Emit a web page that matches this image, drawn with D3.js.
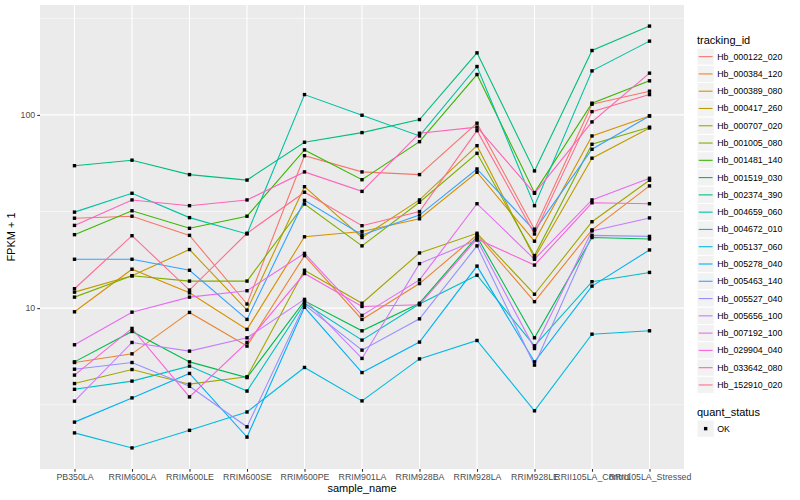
<!DOCTYPE html>
<html>
<head>
<meta charset="utf-8">
<script src="https://cdn.jsdelivr.net/npm/d3@7"></script>
<style>
  body { margin: 0; background: #fff; }
  text { font-family: "Liberation Sans", Arial, Helvetica, sans-serif; }
</style>
</head>
<body>
<script>
// sample names along the x axis
var samples = ["PB350LA", "RRIM600LA", "RRIM600LE", "RRIM600SE", "RRIM600PE", "RRIM901LA",
  "RRIM928BA", "RRIM928LA", "RRIM928LE", "RRII105LA_Control", "RRII105LA_Stressed"];

var trackingIds = ["Hb_000122_020", "Hb_000384_120", "Hb_000389_080", "Hb_000417_260", "Hb_000707_020",
  "Hb_001005_080", "Hb_001481_140", "Hb_001519_030", "Hb_002374_390", "Hb_004659_060",
  "Hb_004672_010", "Hb_005137_060", "Hb_005278_040", "Hb_005463_140", "Hb_005527_040",
  "Hb_005656_100", "Hb_007192_100", "Hb_029904_040", "Hb_033642_080", "Hb_152910_020"];

// FPKM + 1, one row per tracking id, one value per sample
var fpkmPlusOne = [
  [29.2, 29.9, 23.8, 10.5, 61.5, 50.7, 49.1, 90.6, 25.6, 113.6, 132.7],
  [5.23, 5.80, 9.50, 6.36, 18.7, 8.74, 13.4, 23.9, 10.8, 25.4, 42.9],
  [9.57, 15.9, 12.0, 7.76, 23.4, 24.9, 29.0, 50.5, 22.2, 77.8, 98.8],
  [12.1, 14.7, 20.1, 9.76, 42.5, 23.2, 36.3, 69.3, 18.2, 59.7, 85.6],
  [4.07, 4.81, 4.04, 4.41, 15.7, 10.6, 19.3, 24.4, 11.8, 28.0, 45.9],
  [11.4, 14.7, 13.8, 13.8, 34.6, 21.0, 35.3, 63.3, 18.7, 70.5, 86.4],
  [24.0, 31.9, 25.9, 29.9, 65.9, 46.2, 72.7, 161.8, 39.6, 115.0, 150.1],
  [5.27, 7.57, 5.27, 4.37, 10.9, 7.63, 10.6, 23.4, 7.02, 23.2, 22.8],
  [54.6, 58.3, 49.1, 46.0, 72.2, 81.0, 94.6, 209.5, 51.3, 215.4, 288.2],
  [31.4, 39.3, 29.4, 24.2, 127.4, 99.6, 77.8, 178.0, 33.9, 169.0, 240.9],
  [3.80, 4.19, 5.01, 3.72, 10.6, 6.83, 10.5, 14.8, 6.38, 13.7, 15.3],
  [2.26, 1.89, 2.33, 2.90, 4.93, 3.31, 5.46, 6.80, 2.94, 7.33, 7.63],
  [2.57, 3.43, 4.59, 2.15, 10.1, 4.64, 6.67, 16.5, 5.27, 13.0, 20.0],
  [17.9, 17.9, 15.7, 8.74, 36.1, 23.9, 30.3, 52.5, 25.2, 66.4, 98.8],
  [4.83, 5.23, 3.94, 2.43, 10.4, 6.06, 8.80, 21.0, 5.07, 23.8, 23.5],
  [3.30, 6.64, 5.99, 7.02, 11.1, 5.49, 17.0, 22.5, 6.18, 25.1, 29.3],
  [6.46, 9.53, 11.4, 12.3, 19.2, 9.17, 14.0, 34.7, 17.9, 36.3, 47.0],
  [4.50, 7.85, 3.47, 6.64, 15.1, 10.2, 10.4, 22.8, 16.7, 35.1, 34.7],
  [26.8, 36.3, 33.9, 36.3, 50.7, 40.2, 80.4, 86.4, 39.3, 92.0, 164.5],
  [12.6, 23.7, 12.4, 24.4, 39.8, 26.7, 31.6, 82.9, 24.2, 104.0, 127.4]
];

var yTicks = [10, 100];
var yMinorTicks = [3.1623, 31.623, 316.23];
var quantStatus = ["OK"];

// ggplot default hue palette for 20 groups
var palette = ["#F8766D", "#EA8331", "#D89000", "#C09B00", "#A3A500", "#7CAE00", "#39B600", "#00BB4E",
  "#00BF7D", "#00C1A3", "#00BFC4", "#00BAE0", "#00B0F6", "#35A2FF", "#9590FF", "#C77CFF",
  "#E76BF3", "#FA62DB", "#FF62BC", "#FF6C91"];

var width = 800, height = 500;
var panel = { left: 40, right: 684, top: 5, bottom: 469 };

var svg = d3.select("body").append("svg")
  .attr("width", width)
  .attr("height", height);

var x = d3.scalePoint()
  .domain(samples)
  .range([panel.left, panel.right])
  .padding(0.6);

// log scale with ggplot's 5% expansion in log space
var allValues = d3.merge(fpkmPlusOne);
var logExtent = d3.extent(allValues).map(Math.log10);
var pad = (logExtent[1] - logExtent[0]) * 0.05;
var y = d3.scaleLog()
  .domain([Math.pow(10, logExtent[0] - pad), Math.pow(10, logExtent[1] + pad)])
  .range([panel.bottom, panel.top]);

// panel background
svg.append("rect")
  .attr("x", panel.left)
  .attr("y", panel.top)
  .attr("width", panel.right - panel.left)
  .attr("height", panel.bottom - panel.top)
  .attr("fill", "#EBEBEB");

var grid = svg.append("g");
grid.selectAll("line.minor")
  .data(yMinorTicks.filter(function (d) { return y(d) > panel.top && y(d) < panel.bottom; }))
  .enter().append("line")
  .attr("x1", panel.left).attr("x2", panel.right)
  .attr("y1", function (d) { return y(d); })
  .attr("y2", function (d) { return y(d); })
  .attr("stroke", "#fff").attr("stroke-width", 0.55);
grid.selectAll("line.major")
  .data(yTicks)
  .enter().append("line")
  .attr("x1", panel.left).attr("x2", panel.right)
  .attr("y1", function (d) { return y(d); })
  .attr("y2", function (d) { return y(d); })
  .attr("stroke", "#fff").attr("stroke-width", 1.1);
grid.selectAll("line.vx")
  .data(samples)
  .enter().append("line")
  .attr("y1", panel.top).attr("y2", panel.bottom)
  .attr("x1", function (d) { return x(d); })
  .attr("x2", function (d) { return x(d); })
  .attr("stroke", "#fff").attr("stroke-width", 1.1);

// axes
var xAxis = svg.append("g")
  .attr("transform", "translate(0," + panel.bottom + ")")
  .call(d3.axisBottom(x).tickSize(2.75).tickPadding(2));
var yAxis = svg.append("g")
  .attr("transform", "translate(" + panel.left + ",0)")
  .call(d3.axisLeft(y).tickValues(yTicks).tickFormat(d3.format("d")).tickSize(2.75).tickPadding(2));
[xAxis, yAxis].forEach(function (ax) {
  ax.select(".domain").remove();
  ax.selectAll(".tick line").attr("stroke", "#333333").attr("stroke-width", 1.1);
  ax.selectAll(".tick text")
    .attr("fill", "#4D4D4D")
    .style("font-size", "8.8px")
    .style("font-family", "Liberation Sans, Arial, sans-serif");
});

// lines, then points on top
var line = d3.line()
  .x(function (d, i) { return x(samples[i]); })
  .y(function (d) { return y(d); });

svg.append("g").selectAll("path")
  .data(fpkmPlusOne)
  .enter().append("path")
  .attr("d", line)
  .attr("fill", "none")
  .attr("stroke", function (d, i) { return palette[i]; })
  .attr("stroke-width", 1.1);

var pts = [];
fpkmPlusOne.forEach(function (row) {
  row.forEach(function (v, j) { pts.push({ s: samples[j], v: v }); });
});
var ps = 3.4;
svg.append("g").selectAll("rect")
  .data(pts)
  .enter().append("rect")
  .attr("x", function (d) { return x(d.s) - ps / 2; })
  .attr("y", function (d) { return y(d.v) - ps / 2; })
  .attr("width", ps).attr("height", ps)
  .attr("fill", "#000");

// axis titles
svg.append("text")
  .attr("x", (panel.left + panel.right) / 2)
  .attr("y", 492)
  .attr("text-anchor", "middle")
  .style("font-size", "11px")
  .text("sample_name");
svg.append("text")
  .attr("transform", "translate(15," + (panel.top + panel.bottom) / 2 + ") rotate(-90)")
  .attr("text-anchor", "middle")
  .style("font-size", "11px")
  .text("FPKM + 1");

// legend: tracking_id
var keySize = 17.28, legX = 697, legY0 = 48;
var legend = svg.append("g");
legend.append("text")
  .attr("x", legX).attr("y", 44)
  .style("font-size", "11px")
  .text("tracking_id");
var items = legend.selectAll("g.item")
  .data(trackingIds)
  .enter().append("g")
  .attr("transform", function (d, i) { return "translate(" + legX + "," + (legY0 + i * keySize) + ")"; });
items.append("rect")
  .attr("width", keySize).attr("height", keySize)
  .attr("fill", "#F2F2F2").attr("stroke", "#fff").attr("stroke-width", 1);
items.append("line")
  .attr("x1", 1.7).attr("x2", keySize - 1.7)
  .attr("y1", keySize / 2).attr("y2", keySize / 2)
  .attr("stroke", function (d, i) { return palette[i]; })
  .attr("stroke-width", 1.1);
items.append("text")
  .attr("x", keySize + 3).attr("y", keySize / 2 + 3)
  .style("font-size", "8.8px")
  .text(function (d) { return d; });

// legend: quant_status
var legY2 = 420;
legend.append("text")
  .attr("x", legX).attr("y", 416)
  .style("font-size", "11px")
  .text("quant_status");
var qItems = legend.selectAll("g.q")
  .data(quantStatus)
  .enter().append("g")
  .attr("transform", function (d, i) { return "translate(" + legX + "," + (legY2 + i * keySize) + ")"; });
qItems.append("rect")
  .attr("width", keySize).attr("height", keySize)
  .attr("fill", "#F2F2F2").attr("stroke", "#fff").attr("stroke-width", 1);
qItems.append("rect")
  .attr("x", keySize / 2 - ps / 2).attr("y", keySize / 2 - ps / 2)
  .attr("width", ps).attr("height", ps)
  .attr("fill", "#000");
qItems.append("text")
  .attr("x", keySize + 3).attr("y", keySize / 2 + 3)
  .style("font-size", "8.8px")
  .text(function (d) { return d; });
</script>
</body>
</html>
